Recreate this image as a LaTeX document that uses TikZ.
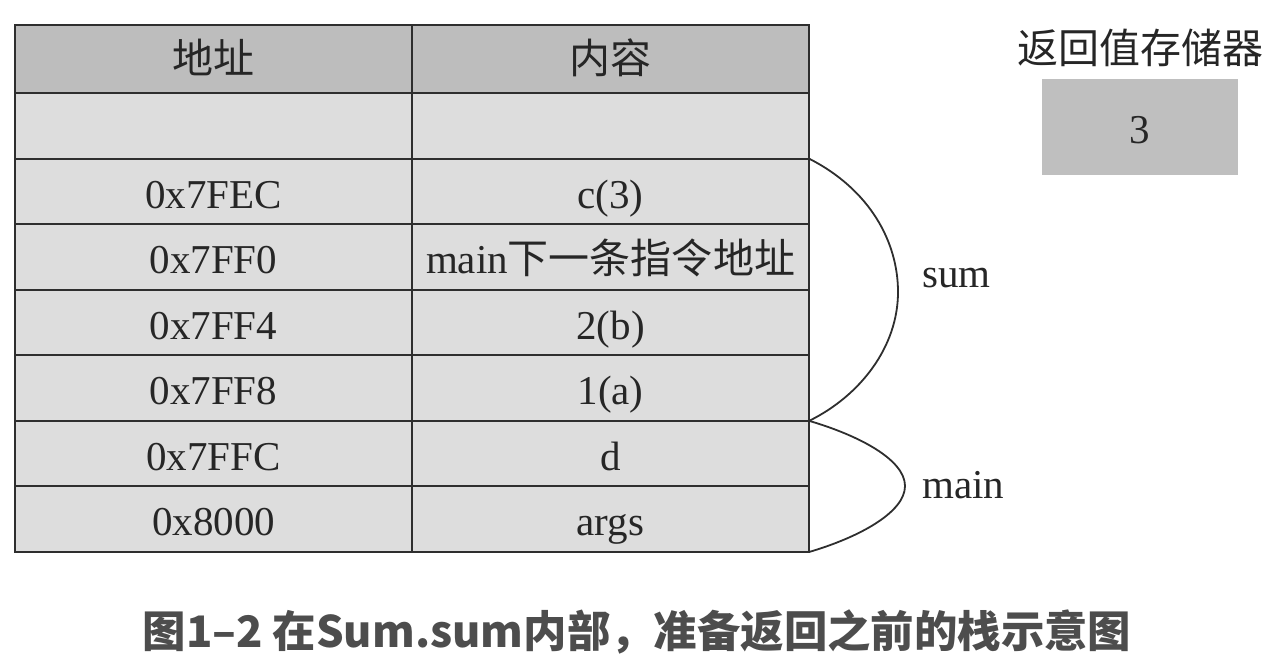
\documentclass[tikz,border=0pt]{standalone}
\usepackage{fontspec}
\setmainfont{Liberation Serif}
\newfontfamily\cjk{Noto Sans CJK SC}
\definecolor{headgray}{HTML}{BDBDBD}
\definecolor{cellgray}{HTML}{DDDDDD}
\definecolor{boxgray}{HTML}{BFBFBF}
\definecolor{linegray}{HTML}{2E2E2E}
\definecolor{capgray}{HTML}{4D4D4D}
\tikzset{
  cell/.style={rectangle,draw=linegray,line width=1pt,fill=cellgray,inner sep=0pt,outer sep=0pt,
    minimum width=198.5pt,minimum height=32.8pt,text height=16.6pt,text depth=0pt,
    text=black!85,font=\fontsize{20.5}{24}\selectfont},
  headcell/.style={cell,fill=headgray,minimum height=34pt,text height=14.8pt},
  txt/.style={inner sep=0pt,text=black!85,font=\fontsize{20.5}{24}\selectfont}
}
\begin{document}
\begin{tikzpicture}[x=0.5pt,y=-0.5pt]
\useasboundingbox (0,0) rectangle (1272,660);

\node[headcell] (h1) at (213.5,59){\cjk 地址};
\node[headcell] (h2) at (610.5,59){\cjk 内容};

\node[cell] (a1) at (213.5,125.8){};        \node[cell] (m1) at (610.5,125.8){};
\node[cell] (a2) at (213.5,191.4){0x7FEC};  \node[cell] (m2) at (610.5,191.4){c(3)};
\node[cell] (a3) at (213.5,256.9){0x7FF0};  \node[cell] (m3) at (610.5,256.9){main{\cjk 下一条指令地址}};
\node[cell] (a4) at (213.5,322.5){0x7FF4};  \node[cell] (m4) at (610.5,322.5){2(b)};
\node[cell] (a5) at (213.5,388.1){0x7FF8};  \node[cell] (m5) at (610.5,388.1){1(a)};
\node[cell] (a6) at (213.5,453.6){0x7FFC};  \node[cell] (m6) at (610.5,453.6){d};
\node[cell] (a7) at (213.5,519.2){0x8000};  \node[cell] (m7) at (610.5,519.2){args};

%\node[cell] (a8) at (213.5,584.8){};
\coordinate (sumtip) at (898,292);
\coordinate (maintip) at (905,486);

\draw[linegray,line width=0.9pt] (m2.north east) .. controls +(61,31) and +(0,-50) .. (sumtip)
  .. controls +(0,55) and +(51,-25) .. (m5.south east);
\draw[linegray,line width=0.9pt] (m6.north east) .. controls +(51,15) and +(0,-26) .. (maintip)
  .. controls +(0,26) and +(51,-15) .. (m7.south east);

\node[txt,anchor=base west] (sum) at (922,287){sum};
\node[txt,anchor=base west] (main) at (922,498){main};

\node[txt] (rettitle) at (1140,48){\cjk 返回值存储器};
\node[txt,fill=boxgray,minimum width=98pt,minimum height=48pt,text height=16pt,text depth=0pt] (ret) at (1140,127){3};

\node[inner sep=0pt,text=capgray,font=\cjk\bfseries\fontsize{21.7}{26}\selectfont] (cap) at (637,632){图1–2 在Sum.sum内部，准备返回之前的栈示意图};
\end{tikzpicture}
\end{document}
